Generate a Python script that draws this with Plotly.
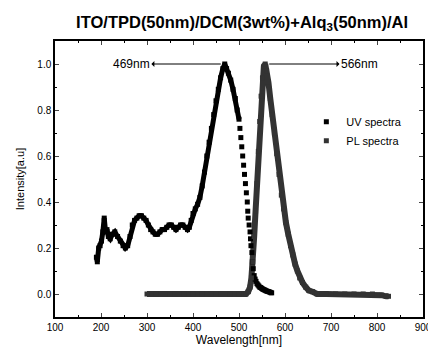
import plotly.graph_objects as go

# UV absorption spectrum (solid part)
uv_nm = [190, 192, 195, 198, 201, 204, 207, 210, 213, 216, 220, 225, 230, 236, 242,
         248, 253, 258, 263, 268, 273, 278, 283, 288, 293, 298, 303, 308, 313, 318,
         323, 328, 333, 338, 343, 348, 353, 358, 363, 368, 373, 378, 383, 388, 392,
         396, 400, 405, 410, 415, 420, 425, 430, 435, 440, 445, 450, 455, 460, 465,
         469, 473, 477, 482, 487, 492, 496, 500]
uv_val = [0.16, 0.14, 0.20, 0.21, 0.23, 0.27, 0.33, 0.27, 0.28, 0.25, 0.24, 0.26, 0.27, 0.25, 0.23,
          0.21, 0.20, 0.21, 0.25, 0.30, 0.32, 0.33, 0.34, 0.34, 0.33, 0.32, 0.30, 0.28, 0.27, 0.26,
          0.26, 0.27, 0.28, 0.28, 0.29, 0.30, 0.30, 0.29, 0.28, 0.29, 0.30, 0.30, 0.29, 0.28, 0.29,
          0.32, 0.35, 0.37, 0.39, 0.42, 0.47, 0.53, 0.60, 0.66, 0.72, 0.78, 0.84, 0.89, 0.94, 0.98,
          1.00, 0.98, 0.96, 0.93, 0.89, 0.85, 0.80, 0.76]
# UV tail (steep part, shown as separate squares)
uv_tail_nm = [502, 504, 506, 508, 510, 512, 514, 516, 518, 519, 520, 522, 524, 525, 526, 528,
              529, 531, 533, 535, 537, 539, 541, 543, 545, 547, 549, 551, 553, 555, 557, 559,
              561, 563, 565, 567, 569, 571]
uv_tail_val = [0.72, 0.68, 0.64, 0.60, 0.56, 0.52, 0.48, 0.44, 0.40, 0.36, 0.33, 0.30, 0.27, 0.24, 0.21, 0.18,
               0.14, 0.11, 0.08, 0.065, 0.055, 0.045, 0.04, 0.035, 0.03, 0.028, 0.025, 0.022, 0.02, 0.018, 0.016, 0.014,
               0.012, 0.011, 0.01, 0.008, 0.006, 0.005]

# PL spectrum
pl_nm = [300, 320, 340, 360, 380, 400, 420, 440, 460, 480, 500, 515, 520, 524, 527, 530,
         533, 536, 539, 542, 545, 548, 551, 554, 557, 560, 564, 568, 572, 577, 582, 587,
         592, 597, 602, 607, 612, 617, 622, 627, 632, 638, 645, 652, 660, 670, 690, 710,
         730, 750, 770, 790, 800, 810, 820, 825]
pl_val = [0.0, 0.0, 0.0, 0.0, 0.0, 0.0, 0.0, 0.0, 0.0, 0.0, 0.0, 0.0, 0.01, 0.03, 0.07, 0.14,
          0.25, 0.36, 0.48, 0.62, 0.75, 0.86, 0.94, 0.99, 1.00, 0.97, 0.92, 0.85, 0.78, 0.70, 0.61, 0.52,
          0.43, 0.37, 0.31, 0.26, 0.21, 0.17, 0.13, 0.10, 0.07, 0.05, 0.03, 0.015, 0.01, 0.0, 0.0, 0.0,
          0.0, 0.0, 0.0, 0.0, -0.005, -0.005, -0.01, -0.01]

x_ticks = [100, 200, 300, 400, 500, 600, 700, 800, 900]
y_ticks = [0.0, 0.2, 0.4, 0.6, 0.8, 1.0]
y_tick_labels = ["0.0", "0.2", "0.4", "0.6", "0.8", "1.0"]

FONT = "Liberation Sans Narrow, Arial Narrow, Liberation Sans, Arial, sans-serif"
PL_COLOR = "#333333"

fig = go.Figure()

# PL line body
fig.add_trace(go.Scatter(x=pl_nm, y=pl_val, mode="lines",
                         line=dict(color=PL_COLOR, width=6), showlegend=False, hoverinfo="skip"))
# UV line body
fig.add_trace(go.Scatter(x=uv_nm, y=uv_val, mode="lines+markers",
                         line=dict(color="black", width=5),
                         marker=dict(symbol="square", size=5, color="black"),
                         showlegend=False))
# UV tail squares (legend carrier)
fig.add_trace(go.Scatter(x=uv_tail_nm, y=uv_tail_val, mode="markers", name="UV spectra",
                         marker=dict(symbol="square", size=5, color="black")))
# PL markers (legend carrier)
fig.add_trace(go.Scatter(x=pl_nm, y=pl_val, mode="markers", name="PL spectra",
                         marker=dict(symbol="square", size=5, color=PL_COLOR)))

fig.add_annotation(x=469, y=1.0, ax=266, ay=1.0, axref="x", ayref="y", xref="x", yref="y",
                   text="469nm", showarrow=True, arrowside="start", arrowhead=2, arrowsize=1.2,
                   arrowwidth=1, arrowcolor="black", standoff=4,
                   font=dict(family=FONT, size=12, color="black"))
fig.add_annotation(x=557, y=1.0, ax=762, ay=1.0, axref="x", ayref="y", xref="x", yref="y",
                   text="566nm", showarrow=True, arrowside="start", arrowhead=2, arrowsize=1.2,
                   arrowwidth=1, arrowcolor="black", standoff=4,
                   font=dict(family=FONT, size=12, color="black"))

fig.update_layout(
    width=428, height=350,
    margin=dict(l=47, r=13, t=33, b=41),
    paper_bgcolor="white", plot_bgcolor="white",
    font=dict(family=FONT, size=10, color="black"),
    title=dict(text="<b>ITO/TPD(50nm)/DCM(3wt%)+Alq<sub>3</sub>(50nm)/Al</b>",
               x=0.547, xanchor="center", y=0.96, yanchor="middle",
               font=dict(family=FONT, size=16.5, color="black")),
    legend=dict(x=0.683, y=0.76, xanchor="left", yanchor="top", bgcolor="rgba(0,0,0,0)",
                font=dict(family=FONT, size=11), itemwidth=30, tracegroupgap=0),
    xaxis=dict(range=[100, 900], tickvals=x_ticks, ticks="inside", ticklen=4,
               showline=True, linecolor="black", linewidth=1.5, mirror="ticks",
               showgrid=False, zeroline=False, automargin=False,
               minor=dict(dtick=50, ticks="inside", ticklen=2, tickcolor="black"),
               title=dict(text="Wavelength[nm]", font=dict(family=FONT, size=12), standoff=4)),
    yaxis=dict(range=[-0.1, 1.1], tickvals=y_ticks, ticktext=y_tick_labels, ticks="inside",
               ticklen=4, showline=True, linecolor="black", linewidth=1.5, mirror="ticks",
               showgrid=False, zeroline=False, automargin=False,
               minor=dict(dtick=0.1, ticks="inside", ticklen=2, tickcolor="black"),
               title=dict(text="Intensity[a.u]", font=dict(family=FONT, size=11), standoff=10)),
)

fig.write_html("out.html")
